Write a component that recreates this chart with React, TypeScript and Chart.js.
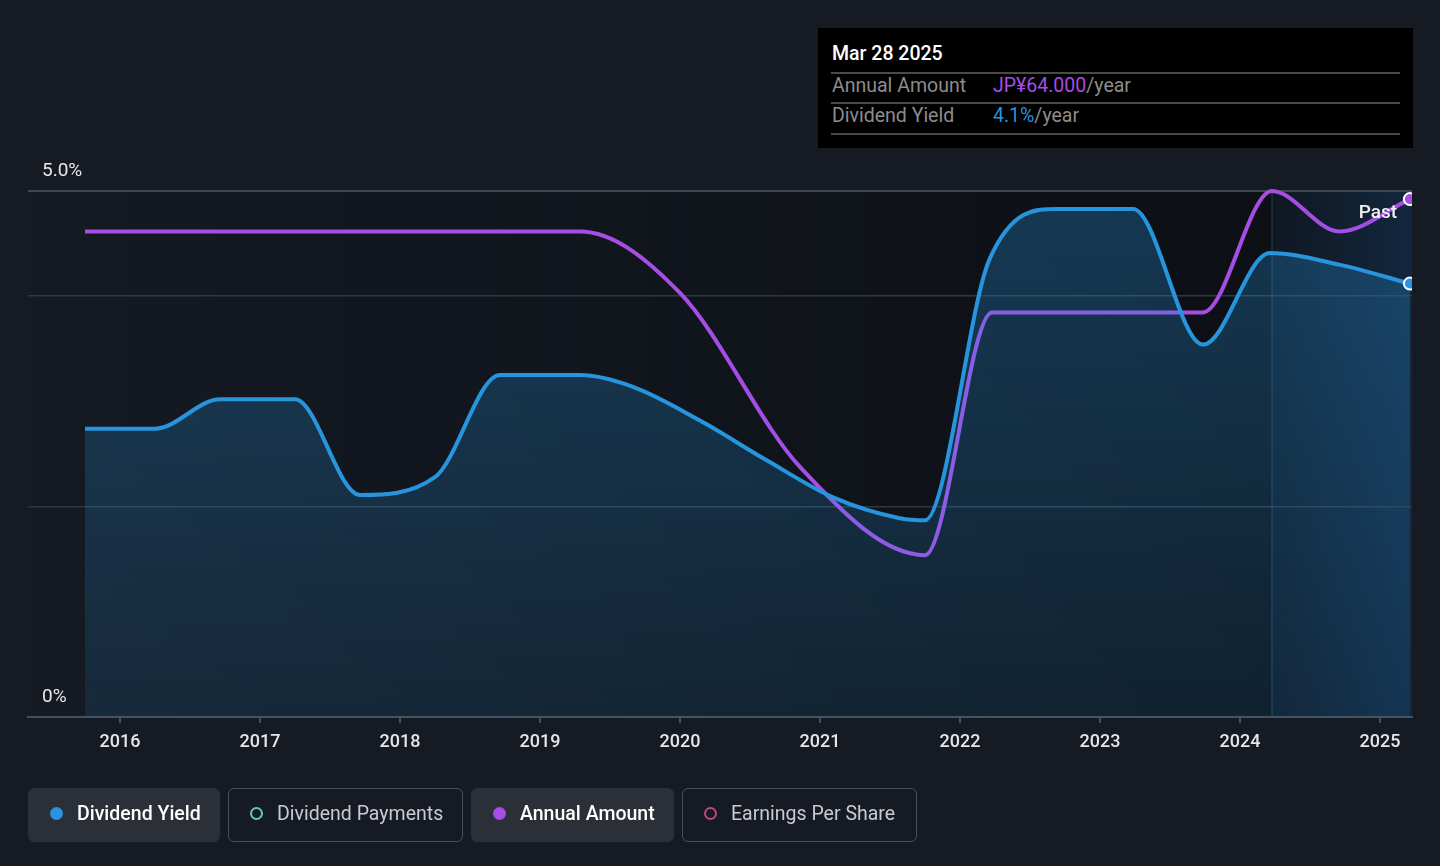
import React, { useEffect, useRef } from "react";
import { Chart, registerables } from "chart.js";

Chart.register(...registerables);

const FONT = "Roboto, 'Noto Sans', sans-serif";
const BLUE = "#2795de";
const PURPLE = "#a54ee6";
const PAGE_BG = "#151a23";

// ---- data ----
const yieldDates = [2015.75, 2016.25, 2016.714, 2017.25, 2017.714, 2018.25, 2018.714, 2019.286, 2019.66, 2020.14, 2020.62, 2021.09, 2021.57, 2021.75, 2022.214, 2022.693, 2023.236, 2023.736, 2024.214, 2024.71, 2025.214];
const yieldValues = [2.74, 2.74, 3.02, 3.02, 2.11, 2.28, 3.25, 3.25, 3.14, 2.82, 2.44, 2.09, 1.89, 1.87, 4.36, 4.83, 4.83, 3.54, 4.41, 4.3, 4.12];

const amountDates = [2015.75, 2019.286, 2020.0, 2020.857, 2021.75, 2022.229, 2023.736, 2024.229, 2024.71, 2025.214];
const amountValues = [60, 60, 52.4, 30.9, 20, 50, 50, 65, 60, 64];

const xTickYears = [2016, 2017, 2018, 2019, 2020, 2021, 2022, 2023, 2024, 2025];
const yGridValues = [0, 2, 4, 5];
const yLabelValues = [0, 5];
const xMin = 2015.343;
const xMax = 2025.229;
const yMax = 5;
const amountAxisMax = 65;
const pastStart = 2024.229;

const tooltipTitle = "Mar 28 2025";
const tooltipRows = [
  { label: "Annual Amount", value: "JP¥64.000", unit: "/year", color: PURPLE },
  { label: "Dividend Yield", value: "4.1%", unit: "/year", color: BLUE },
];

const legendItems = [
  { label: "Dividend Yield", color: BLUE, active: true },
  { label: "Dividend Payments", color: "#5fcbb8", active: false },
  { label: "Annual Amount", color: PURPLE, active: true },
  { label: "Earnings Per Share", color: "#c0487a", active: false },
];
const legendWidths = [192, 235, 203, 235];

const backdropPlugin = {
  id: "backdrop",
  beforeDraw(chart: any) {
    const { ctx, chartArea: a, scales } = chart;
    if (!a) return;
    const px = scales.x.getPixelForValue(pastStart);
    ctx.save();
    const g = ctx.createLinearGradient(a.left, 0, px, 0);
    g.addColorStop(0, "rgba(0,0,0,0)");
    g.addColorStop(1, "rgba(0,0,0,0.38)");
    ctx.fillStyle = g;
    ctx.fillRect(a.left, a.top, px - a.left, a.bottom - a.top);
    ctx.fillStyle = "rgba(0,0,0,0.3)";
    ctx.fillRect(px, a.top, a.right - px, a.bottom - a.top);
    const g2 = ctx.createLinearGradient(px, 0, a.right, 0);
    g2.addColorStop(0, "rgba(30,100,170,0.07)");
    g2.addColorStop(1, "rgba(30,100,170,0.26)");
    ctx.fillStyle = g2;
    ctx.fillRect(px, a.top, a.right - px, a.bottom - a.top);
    ctx.strokeStyle = "rgba(50,100,150,0.4)";
    ctx.lineWidth = 1.5;
    ctx.beginPath();
    ctx.moveTo(px, a.top);
    ctx.lineTo(px, a.bottom);
    ctx.stroke();
    ctx.restore();
  },
  afterDraw(chart: any) {
    const { ctx, chartArea: a, scales } = chart;
    if (!a) return;
    ctx.save();
    ctx.fillStyle = "#e8e8e8";
    ctx.font = `400 19px ${FONT}`;
    ctx.textAlign = "left";
    ctx.textBaseline = "middle";
    yLabelValues.forEach((v) => {
      const y = scales.y.getPixelForValue(v);
      ctx.fillText(v === 0 ? "0%" : v.toFixed(1) + "%", a.left + 14, y - 20);
    });
    ctx.fillStyle = "#f2f2f2";
    ctx.font = `500 19px ${FONT}`;
    ctx.textAlign = "right";
    ctx.fillText("Past", a.right - 15, scales.y.getPixelForValue(yMax) + 22);
    ctx.restore();
  },
};

export default function App() {
  const ref = useRef<HTMLCanvasElement>(null);

  useEffect(() => {
    const canvas = ref.current;
    if (!canvas) return;
    const lastYield = yieldDates.length - 1;
    const lastAmount = amountDates.length - 1;
    const chart = new Chart(canvas, {
      type: "line",
      data: {
        datasets: [
          {
            label: "Dividend Yield",
            data: yieldDates.map((x, i) => ({ x, y: yieldValues[i] })),
            yAxisID: "y",
            borderColor: BLUE,
            borderWidth: 4,
            fill: "origin",
            backgroundColor: (c: any) => {
              const a = c.chart.chartArea;
              if (!a) return "rgba(39,149,222,0.2)";
              const g = c.chart.ctx.createLinearGradient(0, a.top, 0, a.bottom);
              g.addColorStop(0, "rgba(39,149,222,0.3)");
              g.addColorStop(1, "rgba(39,149,222,0.13)");
              return g;
            },
            cubicInterpolationMode: "monotone",
            pointRadius: (c: any) => (c.dataIndex === lastYield ? 6 : 0),
            pointBackgroundColor: BLUE,
            pointBorderColor: "#ffffff",
            pointBorderWidth: 2,
            pointHoverRadius: 0,
            clip: { left: 10, top: 10, right: 0, bottom: 10 },
            order: 0,
          },
          {
            label: "Annual Amount",
            data: amountDates.map((x, i) => ({ x, y: amountValues[i] })),
            yAxisID: "y1",
            borderColor: PURPLE,
            borderWidth: 4,
            fill: false,
            cubicInterpolationMode: "monotone",
            pointRadius: (c: any) => (c.dataIndex === lastAmount ? 6 : 0),
            pointBackgroundColor: PURPLE,
            pointBorderColor: "#ffffff",
            pointBorderWidth: 2,
            pointHoverRadius: 0,
            clip: { left: 10, top: 10, right: 0, bottom: 10 },
            order: 1,
          },
        ] as any,
      },
      options: {
        animation: false,
        responsive: false,
        events: [],
        layout: { padding: { left: 28, right: 28, top: 191, bottom: 109 } },
        plugins: { legend: { display: false }, tooltip: { enabled: false } },
        scales: {
          x: {
            type: "linear",
            min: xMin,
            max: xMax,
            afterBuildTicks: (s: any) => {
              s.ticks = xTickYears.map((v) => ({ value: v }));
            },
            afterFit: (s: any) => {
              s.height = 40;
            },
            grid: { drawOnChartArea: false, drawTicks: true, tickLength: 6, color: "#4a4e56", lineWidth: 2 },
            border: { display: true, color: "#4a4e56", width: 2 },
            ticks: {
              color: "#e6e6e6",
              font: { family: FONT, size: 18, weight: 500 },
              padding: 9,
              maxRotation: 0,
              autoSkip: false,
              callback: (v: any) => String(v),
            },
          },
          y: {
            type: "linear",
            min: 0,
            max: yMax,
            position: "left",
            afterBuildTicks: (s: any) => {
              s.ticks = yGridValues.map((v) => ({ value: v }));
            },
            afterFit: (s: any) => {
              s.width = 0;
            },
            ticks: { display: false },
            border: { display: false },
            grid: {
              drawTicks: false,
              color: (c: any) =>
                c.tick && c.tick.value === 0 ? "rgba(0,0,0,0)" : c.tick && c.tick.value === yMax ? "#43474f" : "#32373f",
              lineWidth: (c: any) => (c.tick && c.tick.value === yMax ? 2 : 1.5),
            },
          },
          y1: { type: "linear", min: 0, max: amountAxisMax, display: false },
        },
      } as any,
      plugins: [backdropPlugin],
    });
    return () => chart.destroy();
  }, []);

  return (
    <div style={{ position: "fixed", left: 0, top: 0, width: 1440, height: 866, background: PAGE_BG, overflow: "hidden", fontFamily: FONT }}>
      <canvas ref={ref} width={1440} height={866} style={{ position: "absolute", left: 0, top: 0, width: 1440, height: 866 }} />
      <div style={{ position: "absolute", left: 818, top: 28, width: 595, height: 120, background: "#000" }}>
        <div style={{ position: "absolute", left: 14, top: 14, lineHeight: "24px", fontSize: 19.5, fontWeight: 500, color: "#fff" }}>{tooltipTitle}</div>
        {[44, 74, 105].map((t, i) => (
          <div key={i} style={{ position: "absolute", left: 13, width: 569, top: t, height: 1.5, background: "#4a4a4a" }} />
        ))}
        {tooltipRows.map((r, i) => (
          <div key={r.label} style={{ position: "absolute", left: 14, top: 46 + i * 30, lineHeight: "24px", fontSize: 19.5, color: "#8c8c8c", width: 560 }}>
            <span>{r.label}</span>
            <span style={{ position: "absolute", left: 161 }}>
              <span style={{ color: r.color }}>{r.value}</span>
              <span>{r.unit}</span>
            </span>
          </div>
        ))}
      </div>
      <div style={{ position: "absolute", left: 28, top: 788, display: "flex", gap: 8 }}>
        {legendItems.map((it, i) => (
          <div
            key={it.label}
            style={{
              boxSizing: "border-box",
              width: legendWidths[i],
              height: 54,
              borderRadius: 6,
              background: it.active ? "#2b2f38" : "transparent",
              border: it.active ? "1.5px solid #2b2f38" : "1.5px solid #4b5059",
              display: "flex",
              alignItems: "center",
              paddingLeft: 21,
              paddingBottom: 4,
              gap: 14,
              fontSize: 19.5,
              fontWeight: it.active ? 500 : 400,
              color: it.active ? "#ffffff" : "#c9cbd0",
            }}
          >
            <span
              style={{
                display: "inline-block",
                boxSizing: "border-box",
                width: 13,
                height: 13,
                borderRadius: "50%",
                background: it.active ? it.color : "transparent",
                border: it.active ? "none" : `2px solid ${it.color}`,
              }}
            />
            <span>{it.label}</span>
          </div>
        ))}
      </div>
    </div>
  );
}
